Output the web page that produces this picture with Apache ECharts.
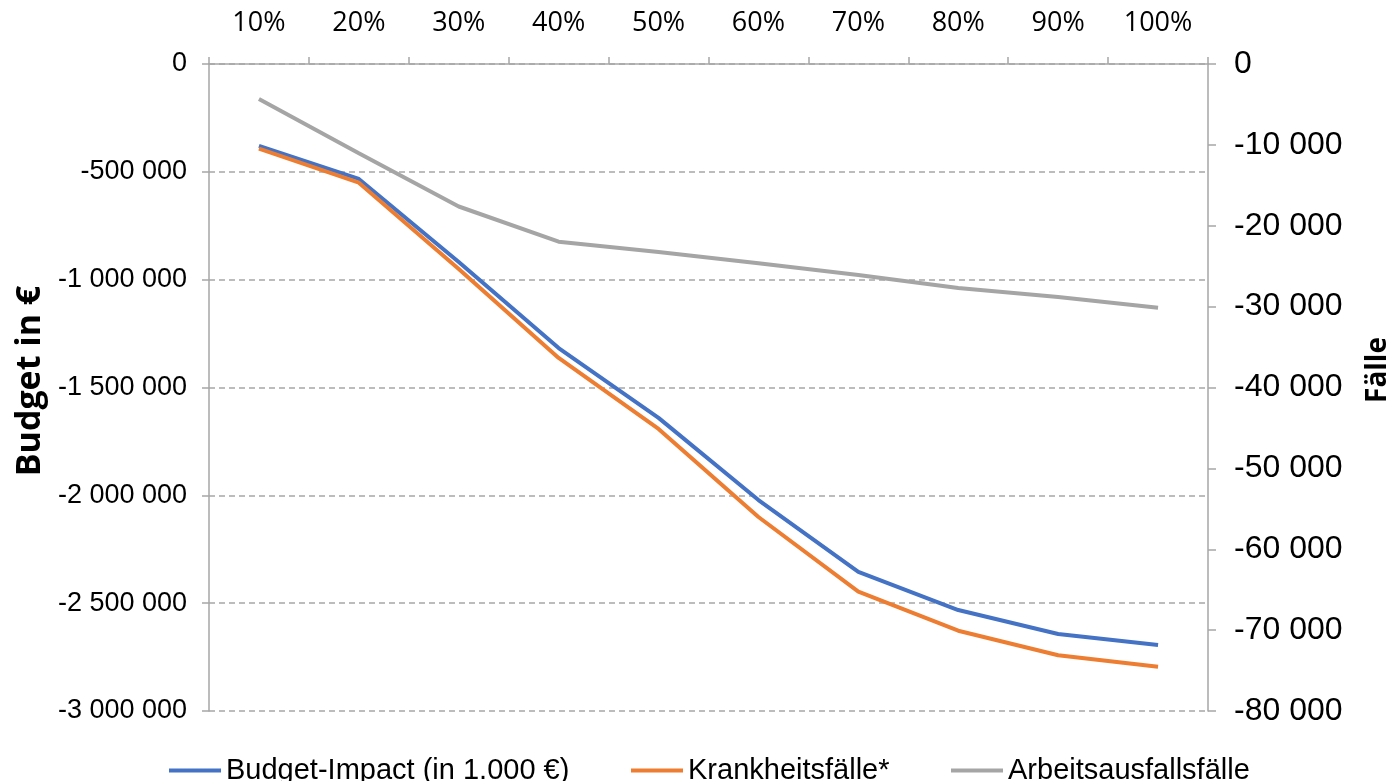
<!DOCTYPE html>
<html>
<head>
<meta charset="utf-8">
<script src="https://cdn.jsdelivr.net/npm/echarts@6/dist/echarts.min.js"></script>
<style>
  html, body { margin: 0; padding: 0; background: #fff; }
  #chart { width: 1394px; height: 781px; }
</style>
</head>
<body>
<div id="chart"></div>
<script>
// Anteil (x-Achse oben)
const categories = ['10%', '20%', '30%', '40%', '50%', '60%', '70%', '80%', '90%', '100%'];

// Budget-Impact, linke Achse (€)
const budgetImpact = [-380000, -533000, -918000, -1317000, -1641000, -2022000, -2355000, -2532000, -2643000, -2694000];
// Krankheitsfälle*, rechte Achse
const krankheitsfaelle = [-10470, -14680, -25350, -36350, -45130, -56010, -65250, -70070, -73110, -74520];
// Arbeitsausfallsfälle, rechte Achse
const arbeitsausfaelle = [-4330, -11040, -17620, -21970, -23250, -24640, -26090, -27700, -28810, -30130];

const seriesNames = ['Budget-Impact (in 1.000 €)', 'Krankheitsfälle*', 'Arbeitsausfallsfälle'];
const colors = ['#4472C4', '#ED7D31', '#A5A5A5'];

// -1500000 -> "-1 500 000"
function fmt(v) {
  const s = String(Math.abs(v)).replace(/\B(?=(\d{3})+(?!\d))/g, ' ');
  return (v < 0 ? '-' : '') + s;
}

const chart = echarts.init(document.getElementById('chart'));

const axisGrey = '#A6A6A6';

function legendAt(name, left) {
  return {
    data: [name],
    left: left,
    top: 751,
    icon: 'rect',
    itemWidth: 52,
    itemHeight: 4,
    textStyle: { fontFamily: 'Liberation Sans', fontSize: 29, color: '#000' }
  };
}

const option = {
  animation: false,
  color: colors,
  grid: { left: 209, right: 186, top: 64, bottom: 70, outerBoundsMode: 'none' },
  legend: [
    legendAt(seriesNames[0], 164),
    legendAt(seriesNames[1], 626),
    legendAt(seriesNames[2], 946)
  ],
  graphic: [{
    type: 'text',
    x: 30, y: 381,
    rotation: Math.PI / 2,
    style: {
      text: 'Budget in €',
      font: 'bold 34px "Open Sans"',
      fill: '#000',
      align: 'center',
      verticalAlign: 'middle'
    }
  }, {
    type: 'text',
    x: 1378, y: 370,
    rotation: Math.PI / 2,
    style: {
      text: 'Fälle',
      font: 'bold 28px "Open Sans"',
      fill: '#000',
      align: 'center',
      verticalAlign: 'middle'
    }
  }],
  xAxis: {
    type: 'category',
    position: 'top',
    data: categories,
    boundaryGap: true,
    axisLine: { lineStyle: { color: axisGrey, width: 1.5 } },
    axisTick: { show: true, length: 7, lineStyle: { color: axisGrey, width: 1.5 } },
    axisLabel: { fontFamily: 'Open Sans', fontSize: 27, color: '#000', margin: 27 },
    splitLine: { show: false }
  },
  yAxis: [{
    type: 'value',
    position: 'left',
    min: -3000000,
    max: 0,
    interval: 500000,
    axisLine: { show: true, lineStyle: { color: axisGrey, width: 1.5 } },
    axisTick: { show: true, length: 7, lineStyle: { color: axisGrey, width: 1.5 } },
    axisLabel: { fontFamily: 'Liberation Sans', fontSize: 27, color: '#000', margin: 22, formatter: fmt },
    splitLine: { lineStyle: { color: axisGrey, width: 1.5, type: [6, 4] } }
  }, {
    type: 'value',
    position: 'right',
    min: -80000,
    max: 0,
    interval: 10000,
    axisLine: { show: true, lineStyle: { color: axisGrey, width: 1.5 } },
    axisTick: { show: true, length: 8, lineStyle: { color: axisGrey, width: 1.5 } },
    axisLabel: { fontFamily: 'Liberation Sans', fontSize: 32, color: '#000', margin: 26, formatter: fmt },
    splitLine: { show: false }
  }],
  series: [{
    name: seriesNames[0],
    type: 'line',
    yAxisIndex: 0,
    data: budgetImpact,
    showSymbol: false,
    lineStyle: { width: 4, color: colors[0] }
  }, {
    name: seriesNames[1],
    type: 'line',
    yAxisIndex: 1,
    data: krankheitsfaelle,
    showSymbol: false,
    lineStyle: { width: 4, color: colors[1] }
  }, {
    name: seriesNames[2],
    type: 'line',
    yAxisIndex: 1,
    data: arbeitsausfaelle,
    showSymbol: false,
    lineStyle: { width: 4, color: colors[2] }
  }]
};

chart.setOption(option);
</script>
</body>
</html>
